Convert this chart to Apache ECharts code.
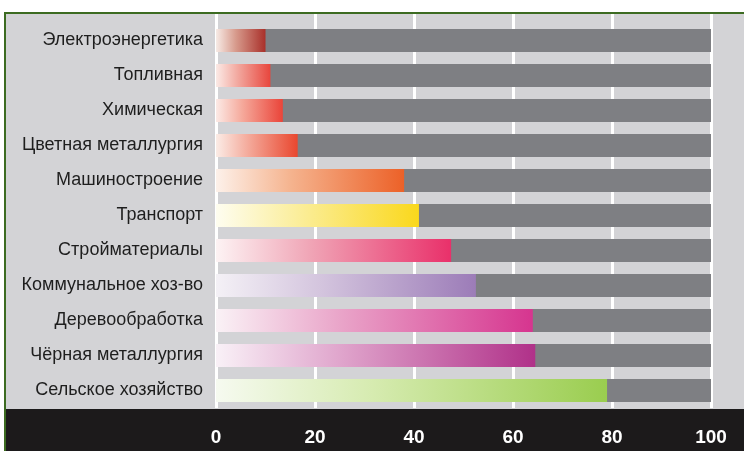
<!DOCTYPE html>
<html>
<head>
<meta charset="utf-8">
<script src="https://cdn.jsdelivr.net/npm/echarts@6/dist/echarts.min.js"></script>
<style>
html,body{margin:0;padding:0;background:#fff;width:744px;height:451px;overflow:hidden;}
#frame{position:absolute;left:4px;top:12px;width:738px;height:437px;border-top:2px solid #3c6b21;border-left:2px solid #3c6b21;background:#d3d3d6;}
#strip{position:absolute;left:6px;top:409px;width:738px;height:42px;background:#1c1a1b;}
#chart{position:absolute;left:0;top:0;width:744px;height:451px;}
</style>
</head>
<body>
<div id="frame"></div>
<div id="strip"></div>
<div id="chart"></div>
<script>
const categories = ["Электроэнергетика","Топливная","Химическая","Цветная металлургия","Машиностроение","Транспорт","Стройматериалы","Коммунальное хоз-во","Деревообработка","Чёрная металлургия","Сельское хозяйство"];
const values = [10, 11, 13.5, 16.5, 38, 41, 47.5, 52.5, 64, 64.5, 79];
const totals = [100,100,100,100,100,100,100,100,100,100,100];
const endColors = ["#a9302a","#e8463d","#ea4439","#e9472f","#ec6128","#fad81c","#e9306a","#9c7cb8","#d6358f","#b03189","#9acd4f"];
const startColors = ["#f7ebe6","#fbeae6","#fceae6","#fbece6","#fdf1ea","#fefdf0","#fdf3f4","#f4f1f6","#faf2f6","#f9f1f7","#f6faf0"];
const midColors = ["#d79a8c","#f2a89f","#f5a89a","#f4a99a","#f5b38e","#fbee9c","#f0a5b6","#d4c5de","#e9a3c8","#dfa3cb","#d6ebb0"];
const xTicks = [0,20,40,60,80,100];

const chart = echarts.init(document.getElementById('chart'), null, {renderer:'canvas'});
const fontFam = '"Liberation Sans", Arial, Helvetica, sans-serif';

const coloredData = values.map((v,i)=>({
  value: v,
  itemStyle: {
    color: new echarts.graphic.LinearGradient(0,0,1,0,[
      {offset:0, color:startColors[i]},
      {offset:0.4, color:midColors[i]},
      {offset:1, color:endColors[i]}
    ])
  }
}));

chart.setOption({
  backgroundColor: 'transparent',
  animation: false,
  grid: [
    {left:216, right:33, top:23, bottom:43},
    {left:216, right:33, top:14, bottom:43}
  ],
  xAxis: [
    {gridIndex:0, type:'value', min:0, max:100, interval:20, show:true,
     axisLine:{show:false}, axisTick:{show:false}, axisLabel:{show:false}, splitLine:{show:false}},
    {gridIndex:1, type:'value', min:xTicks[0], max:xTicks[xTicks.length-1], interval:20,
     axisLine:{show:false}, axisTick:{show:false},
     axisLabel:{color:'#ffffff', fontWeight:'bold', fontSize:19, fontFamily:fontFam, margin:20},
     splitLine:{show:true, lineStyle:{color:'#ffffff', width:3}}}
  ],
  yAxis: [
    {gridIndex:0, type:'category', data:categories, inverse:true,
     axisLine:{show:false}, axisTick:{show:false},
     axisLabel:{color:'#1e1e1e', fontSize:18, fontFamily:fontFam, margin:13}},
    {gridIndex:1, type:'value', min:0, max:1, show:false}
  ],
  series: [
    {type:'scatter', xAxisIndex:1, yAxisIndex:1, data:[], silent:true},
    {type:'bar', xAxisIndex:0, yAxisIndex:0, data:totals, barWidth:23, barGap:'-100%',
     itemStyle:{color:'#7e7f83'}, silent:true, z:2},
    {type:'bar', xAxisIndex:0, yAxisIndex:0, data:coloredData, barWidth:23, barGap:'-100%',
     silent:true, z:3}
  ]
});
</script>
</body>
</html>
